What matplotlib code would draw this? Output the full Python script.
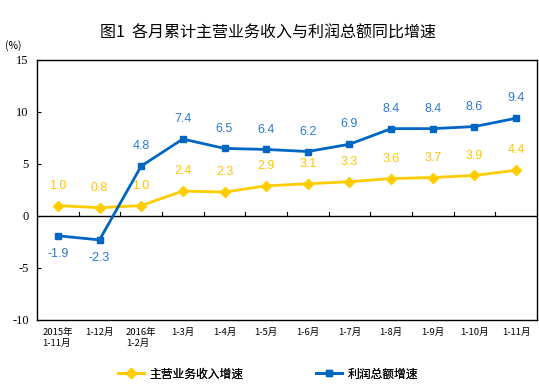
import matplotlib
matplotlib.use("Agg")
import matplotlib.pyplot as plt
from matplotlib.lines import Line2D

categories = ["2015年\n1-11月", "1-12月", "2016年\n1-2月", "1-3月", "1-4月", "1-5月",
              "1-6月", "1-7月", "1-8月", "1-9月", "1-10月", "1-11月"]
revenue = [1.0, 0.8, 1.0, 2.4, 2.3, 2.9, 3.1, 3.3, 3.6, 3.7, 3.9, 4.4]
profit = [-1.9, -2.3, 4.8, 7.4, 6.5, 6.4, 6.2, 6.9, 8.4, 8.4, 8.6, 9.4]
yticks = [-10, -5, 0, 5, 10, 15]
title = "图1  各月累计主营业务收入与利润总额同比增速"
legend_labels = ["主营业务收入增速", "利润总额增速"]

cjk = ["Noto Sans CJK SC", "DejaVu Sans"]
yellow = "#FFCC00"
yellow_txt = "#FFC400"
blue = "#0066C4"
blue_txt = "#2E78D2"

fig = plt.figure(figsize=(5.39, 3.86), dpi=100)
ax = fig.add_axes([37/539, 1-320/386, 500/539, 260/386])
x = list(range(len(categories)))
ax.set_xlim(-0.5, len(categories)-0.5)
ax.set_ylim(-10, 15)

ax.plot(x, revenue, color=yellow, lw=2, marker="D", ms=5, zorder=3)
ax.plot(x, profit, color=blue, lw=2, marker="s", ms=4.5, zorder=3)

for i, v in enumerate(revenue):
    ax.annotate(f"{v:.1f}", (i, v), xytext=(0, 10), textcoords="offset points",
                ha="center", va="bottom", color=yellow_txt, fontsize=9,
                family="Liberation Sans")
for i, v in enumerate(profit):
    below = i < 2
    ax.annotate(f"{v:.1f}", (i, v), xytext=(0, -9 if below else 10), textcoords="offset points",
                ha="center", va="top" if below else "bottom", color=blue_txt, fontsize=9,
                family="Liberation Sans")

# zero axis line with category-boundary ticks
ax.axhline(0, color="black", lw=1, zorder=2)
for b in range(1, len(categories)):
    ax.plot([b-0.5, b-0.5], [0, 0.35], color="black", lw=0.8, zorder=2)

ax.set_yticks(yticks)
ax.set_yticklabels([str(t) for t in yticks], family="Liberation Serif", fontsize=9)
ax.tick_params(axis="y", direction="in", length=3, width=0.8, pad=6)
ax.set_xticks(x)
ax.set_xticklabels(categories, family=cjk, fontsize=6.8, multialignment="left")
ax.tick_params(axis="x", length=0, pad=6)
for s in ax.spines.values():
    s.set_linewidth(1)
    s.set_color("black")

fig.text(268/539, 1-33/386, title, ha="center", va="center", fontsize=11.5,
         family=cjk, fontweight="medium")
fig.text(5/539, 1-46/386, "(%)", ha="left", va="center", fontsize=7.5, family=cjk)

handles = [Line2D([], [], color=yellow, lw=2, marker="D", ms=5),
           Line2D([], [], color=blue, lw=2, marker="s", ms=4.5)]
anchors = [113/539, 311/539]
for h, lab, ax_x in zip(handles, legend_labels, anchors):
    lg = fig.legend([h], [lab], loc="center left", bbox_to_anchor=(ax_x, 1-374/386),
                    frameon=False, prop={"family": cjk, "size": 8.5},
                    handlelength=2.2, handletextpad=0.5, borderaxespad=0)
    fig.add_artist(lg)

fig.savefig("out.png", dpi=100)
